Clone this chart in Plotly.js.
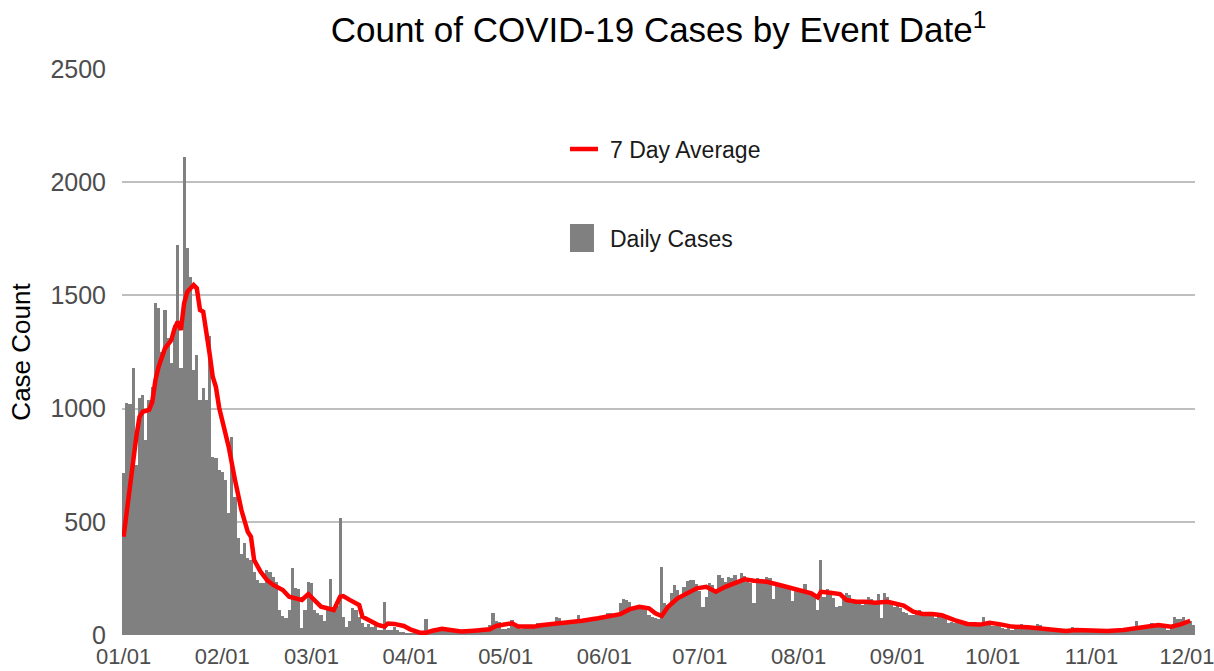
<!DOCTYPE html>
<html>
<head>
<meta charset="utf-8">
<script src="https://cdn.plot.ly/plotly-3.0.1.min.js"></script>
<style>
  html, body { margin: 0; padding: 0; background: #ffffff; }
  #chart { width: 1214px; height: 671px; }
</style>
</head>
<body>
<div id="chart"></div>
<script>
// ---- Data ----
const startDate = '2021-01-01';

// Daily case counts, one per day starting 01/01
const dailyCases = [
  715, 1025, 1020, 1180, 750, 1047, 1060, 861, 1040, 1095,
  1466, 1444, 1250, 1436, 1312, 1200, 1370, 1722, 1180, 2111,
  1710, 1581, 1170, 1237, 1038, 1090, 1040, 1320, 787, 780,
  729, 721, 684, 537, 876, 610, 430, 360, 405, 339,
  330, 280, 243, 228, 228, 287, 280, 258, 235, 110,
  85, 75, 110, 294, 206, 202, 29, 110, 235, 230,
  110, 96, 88, 60, 110, 247, 103, 130, 515, 81,
  37, 60, 119, 110, 80, 52, 37, 50, 37, 50,
  22, 22, 147, 22, 22, 37, 22, 15, 15, 7,
  7, 10, 7, 10, 15, 69, 20, 15, 15, 18,
  29, 29, 22, 20, 18, 15, 12, 16, 14, 18,
  22, 20, 25, 22, 24, 44, 96, 60, 59, 28,
  25, 30, 66, 40, 30, 28, 32, 30, 35, 30,
  51, 45, 37, 40, 38, 42, 78, 75, 60, 55,
  60, 58, 62, 88, 70, 66, 70, 65, 72, 78,
  75, 80, 99, 95, 88, 90, 143, 160, 155, 147,
  118, 122, 115, 120, 110, 90, 80, 75, 70, 299,
  140, 132, 184, 221, 200, 169, 213, 240, 243, 243,
  225, 195, 125, 169, 228, 220, 191, 263, 250, 235,
  255, 250, 265, 230, 272, 260, 235, 230, 140, 250,
  248, 245, 257, 250, 160, 215, 231, 225, 213, 218,
  150, 206, 200, 200, 224, 184, 184, 180, 110, 331,
  170, 202, 190, 162, 125, 130, 170, 184, 175, 147,
  150, 140, 132, 135, 166, 160, 150, 181, 74, 187,
  170, 140, 125, 128, 120, 103, 96, 88, 90, 100,
  110, 95, 92, 90, 85, 74, 88, 85, 90, 54,
  56, 52, 52, 50, 48, 50, 44, 46, 42, 45,
  78, 55, 50, 40, 40, 38, 30, 28, 29, 22,
  29, 30, 49, 45, 29, 30, 28, 49, 45, 19,
  20, 18, 19, 17, 20, 19, 18, 19, 37, 15,
  16, 14, 15, 15, 19, 20, 18, 19, 21, 19,
  20, 19, 25, 24, 26, 25, 24, 27, 63, 37,
  38, 35, 38, 54, 50, 40, 38, 37, 22, 30,
  81, 69, 70, 78, 59, 60, 44
];

// 7 day average, read at these day offsets from 01/01
const avgDays = [
  0, 1, 2, 3, 4, 5, 6, 8, 9, 10, 11, 13, 15, 16, 17, 18, 19, 20, 22, 23,
  24, 25, 26, 27, 28, 29, 30, 31, 33, 35, 37, 39, 40, 41, 43, 45, 47, 50, 52, 54,
  56, 58, 60, 62, 64, 66, 68, 69, 71, 73, 74, 75, 76, 78, 80, 82, 83, 85, 88, 90,
  93, 95, 97, 100, 102, 106, 110, 115, 117, 120, 122, 124, 129, 131, 135, 137, 141, 144, 149, 153,
  156, 159, 162, 165, 167, 169, 171, 174, 177, 180, 183, 186, 189, 193, 195, 198, 202, 206, 210, 213,
  216, 218, 219, 222, 225, 227, 230, 233, 236, 240, 243, 245, 248, 251, 254, 257, 261, 265, 269, 272,
  275, 279, 284, 289, 293, 296, 299, 304, 309, 314, 317, 320, 325, 329, 332, 335
];
const avgValues = [
  434, 552, 670, 773, 876, 964, 986, 994, 1030, 1126, 1185, 1266, 1303, 1354, 1384, 1347, 1465, 1516, 1546, 1531,
  1435, 1428, 1347, 1244, 1141, 1095, 1005, 950, 832, 684, 552, 456, 434, 331, 280, 243, 221, 199, 169, 162,
  155, 181, 155, 125, 118, 110, 169, 172, 155, 140, 132, 81, 74, 59, 44, 37, 51, 49, 40, 25,
  10, 10, 19, 27, 22, 15, 19, 25, 40, 47, 52, 37, 37, 43, 49, 56, 57, 63, 74, 84,
  92, 114, 125, 118, 96, 84, 125, 162, 184, 206, 213, 191, 213, 235, 246, 240, 235, 221, 206, 195,
  184, 166, 191, 187, 181, 155, 147, 147, 143, 147, 137, 130, 103, 93, 93, 87, 66, 49, 46, 54,
  48, 37, 34, 29, 22, 18, 22, 19, 18, 22, 29, 37, 44, 37, 47, 63
];

const tickDates = ['2021-01-01','2021-02-01','2021-03-01','2021-04-01','2021-05-01','2021-06-01',
                   '2021-07-01','2021-08-01','2021-09-01','2021-10-01','2021-11-01','2021-12-01'];
const tickLabels = ['01/01','02/01','03/01','04/01','05/01','06/01',
                    '07/01','08/01','09/01','10/01','11/01','12/01'];
const yTicks = [0, 500, 1000, 1500, 2000, 2500];

// ---- helpers ----
function dayToDate(d) {
  const base = new Date(startDate + 'T00:00:00Z');
  const t = new Date(base.getTime() + d * 86400000);
  return t.toISOString().slice(0, 10);
}
const barDates = dailyCases.map((_, i) => dayToDate(i));
const avgDates = avgDays.map(d => dayToDate(d));

const FONT = 'Liberation Sans, Arial, Helvetica, sans-serif';

const traces = [
  {
    type: 'bar',
    name: 'Daily Cases',
    x: barDates,
    y: dailyCases,
    marker: { color: '#808080', line: { width: 0 } },
    legend: 'legend2',
    hoverinfo: 'x+y'
  },
  {
    type: 'scatter',
    mode: 'lines',
    name: '7 Day Average',
    x: avgDates,
    y: avgValues,
    line: { color: '#ff0000', width: 4.5 },
    legend: 'legend',
    hoverinfo: 'x+y'
  }
];

const layout = {
  width: 1214,
  height: 671,
  margin: { l: 122, r: 19, t: 69, b: 36, pad: 0 },
  paper_bgcolor: '#ffffff',
  plot_bgcolor: '#ffffff',
  font: { family: FONT, color: '#000000' },
  bargap: 0,
  title: {
    text: 'Count of COVID-19 Cases by Event Date<sup>1</sup>',
    font: { family: FONT, size: 35, color: '#000000' },
    x: 0.5, xref: 'paper', xanchor: 'center',
    y: 0.955, yref: 'container', yanchor: 'middle'
  },
  xaxis: {
    type: 'date',
    range: ['2020-12-31 12:00', '2021-12-03 12:00'],
    tickvals: tickDates,
    ticktext: tickLabels,
    showgrid: false,
    zeroline: false,
    showline: false,
    ticks: '',
    ticklabelstandoff: 6,
    ticklabeloverflow: 'allow',
    tickfont: { family: FONT, size: 22, color: '#4d4d4d' },
    fixedrange: true
  },
  yaxis: {
    range: [0, 2500],
    tickvals: yTicks,
    ticktext: yTicks.map(String),
    showgrid: true,
    gridcolor: '#bfbfbf',
    gridwidth: 2,
    zeroline: false,
    showline: false,
    ticks: '',
    ticklabelstandoff: 15,
    tickfont: { family: FONT, size: 25, color: '#4d4d4d' },
    title: { text: 'Case Count', font: { family: FONT, size: 26, color: '#000000' }, standoff: 12 },
    fixedrange: true
  },
  legend: {
    x: 0.4175, xref: 'paper', xanchor: 'left',
    y: 0.8587, yref: 'paper', yanchor: 'middle',
    bgcolor: 'rgba(0,0,0,0)', borderwidth: 0,
    font: { family: FONT, size: 23, color: '#1a1a1a' }
  },
  legend2: {
    x: 0.4175, xref: 'paper', xanchor: 'left',
    y: 0.7014, yref: 'paper', yanchor: 'middle',
    bgcolor: 'rgba(0,0,0,0)', borderwidth: 0,
    font: { family: FONT, size: 23, color: '#1a1a1a' }
  },
  showlegend: true
};

Plotly.newPlot('chart', traces, layout, { displayModeBar: false, staticPlot: true }).then(function () {
  // match the reference legend keys: a wide square for the bars, line key shifted left
  document.querySelectorAll('g.legend2 g.legendpoints path').forEach(function (p) {
    p.setAttribute('d', 'M4,14H-24V-14H4Z');
  });
  document.querySelectorAll('g.legend g.legendlines path').forEach(function (p) {
    p.setAttribute('d', 'M-2,0h30');
  });
});
</script>
</body>
</html>
